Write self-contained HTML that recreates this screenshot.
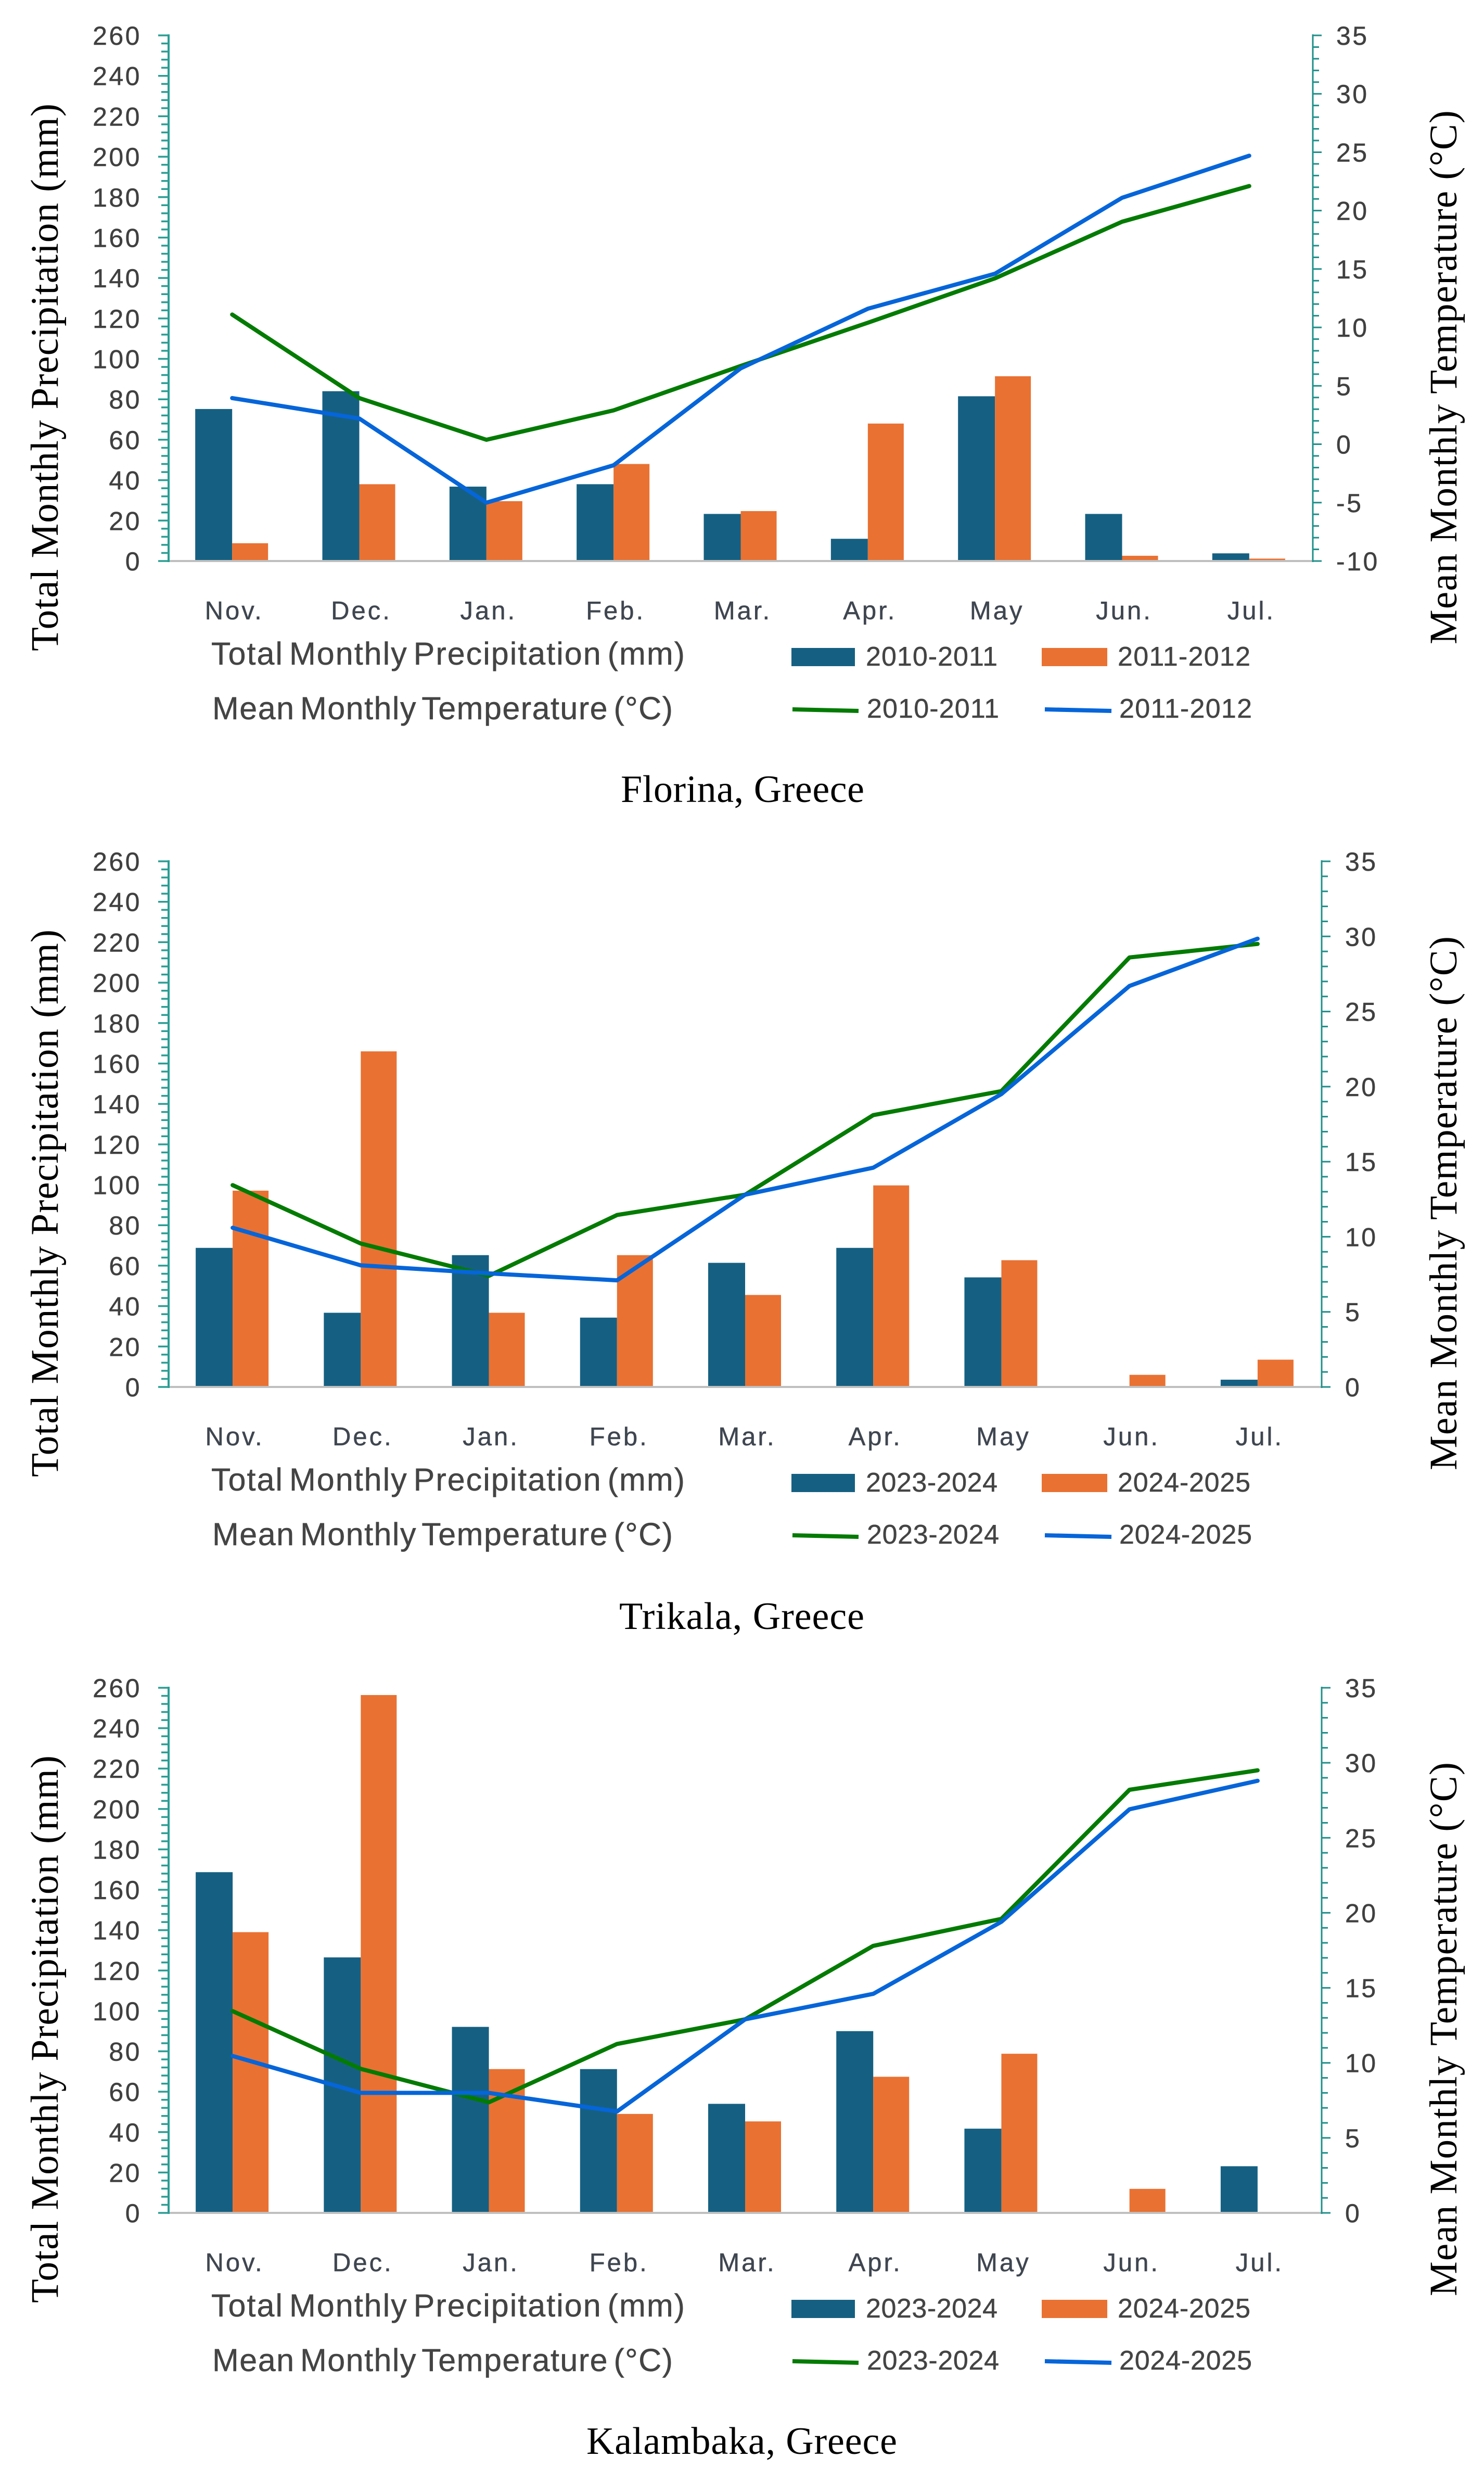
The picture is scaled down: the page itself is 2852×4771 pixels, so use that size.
<!DOCTYPE html>
<html lang="en">
<head>
<meta charset="utf-8">
<title>Monthly precipitation and temperature: Florina, Trikala, Kalambaka</title>
<style>
html,body{margin:0;padding:0;background:#fff;width:2852px;height:4771px;overflow:hidden}
svg{display:block}
.axis-title{font-family:"Liberation Serif",serif;font-size:75px;fill:#000}
.caption{font-family:"Liberation Serif",serif;font-size:74px;fill:#000}
.legend-title{font-family:"Liberation Sans",sans-serif;font-size:61px;fill:#444;word-spacing:-8px;stroke:#444;stroke-width:.5px}
.legend-label{font-family:"Liberation Sans",sans-serif;font-size:52px;fill:#444;stroke:#444;stroke-width:.5px}
.tick-label{font-family:"Liberation Sans",sans-serif;font-size:50px;fill:#404040;letter-spacing:3.5px;stroke:#404040;stroke-width:.5px}
.month-label{font-family:"Liberation Sans",sans-serif;font-size:49px;fill:#3f4650;letter-spacing:4px;text-anchor:middle;stroke:#3f4650;stroke-width:.5px}
</style>
</head>
<body>
<svg id="figure" xmlns="http://www.w3.org/2000/svg" width="2852" height="4771" viewBox="0 0 2852 4771">
<rect x="0" y="0" width="2852" height="4771" fill="#fff"/>

<g id="chart-florina">
  <g id="marks-florina"></g>
  <text class="axis-title" transform="translate(111,1251) rotate(-90)" textLength="1052">Total Monthly Precipitation (mm)</text>
  <text class="axis-title" transform="translate(2799,1238) rotate(-90)" textLength="1026">Mean Monthly Temperature (°C)</text>
  <g>
    <text class="legend-title" x="406" y="1277" textLength="910">Total Monthly Precipitation (mm)</text>
    <text class="legend-title" x="408" y="1382" textLength="885">Mean Monthly Temperature (°C)</text>
    <rect x="1521" y="1245" width="122" height="35" fill="#156082"/>
    <text class="legend-label" x="1664" y="1279" textLength="253">2010-2011</text>
    <rect x="2002" y="1245" width="126" height="35" fill="#E97132"/>
    <text class="legend-label" x="2148" y="1279" textLength="255">2011-2012</text>
    <line x1="1523" y1="1363" x2="1650" y2="1366" stroke="#037B03" stroke-width="8"/>
    <text class="legend-label" x="1666" y="1379" textLength="254">2010-2011</text>
    <line x1="2008" y1="1363" x2="2136" y2="1366" stroke="#0565D9" stroke-width="8"/>
    <text class="legend-label" x="2151" y="1379" textLength="255">2011-2012</text>
  </g>
  <text class="caption" x="1193" y="1541" textLength="468">Florina, Greece</text>
</g>

<g id="chart-trikala">
  <g id="marks-trikala"></g>
  <g transform="translate(0,1587)">
  <text class="axis-title" transform="translate(111,1251) rotate(-90)" textLength="1052">Total Monthly Precipitation (mm)</text>
  <text class="axis-title" transform="translate(2799,1238) rotate(-90)" textLength="1026">Mean Monthly Temperature (°C)</text>
  <g>
    <text class="legend-title" x="406" y="1277" textLength="910">Total Monthly Precipitation (mm)</text>
    <text class="legend-title" x="408" y="1382" textLength="885">Mean Monthly Temperature (°C)</text>
    <rect x="1521" y="1245" width="122" height="35" fill="#156082"/>
    <text class="legend-label" x="1664" y="1279" textLength="253">2023-2024</text>
    <rect x="2002" y="1245" width="126" height="35" fill="#E97132"/>
    <text class="legend-label" x="2148" y="1279" textLength="255">2024-2025</text>
    <line x1="1523" y1="1363" x2="1650" y2="1366" stroke="#037B03" stroke-width="8"/>
    <text class="legend-label" x="1666" y="1379" textLength="254">2023-2024</text>
    <line x1="2008" y1="1363" x2="2136" y2="1366" stroke="#0565D9" stroke-width="8"/>
    <text class="legend-label" x="2151" y="1379" textLength="255">2024-2025</text>
  </g>
  <text class="caption" x="1190" y="1543" textLength="471">Trikala, Greece</text>
  </g>
</g>

<g id="chart-kalambaka">
  <g id="marks-kalambaka"></g>
  <g transform="translate(0,3174)">
  <text class="axis-title" transform="translate(111,1251) rotate(-90)" textLength="1052">Total Monthly Precipitation (mm)</text>
  <text class="axis-title" transform="translate(2799,1238) rotate(-90)" textLength="1026">Mean Monthly Temperature (°C)</text>
  <g>
    <text class="legend-title" x="406" y="1277" textLength="910">Total Monthly Precipitation (mm)</text>
    <text class="legend-title" x="408" y="1382" textLength="885">Mean Monthly Temperature (°C)</text>
    <rect x="1521" y="1245" width="122" height="35" fill="#156082"/>
    <text class="legend-label" x="1664" y="1279" textLength="253">2023-2024</text>
    <rect x="2002" y="1245" width="126" height="35" fill="#E97132"/>
    <text class="legend-label" x="2148" y="1279" textLength="255">2024-2025</text>
    <line x1="1523" y1="1363" x2="1650" y2="1366" stroke="#037B03" stroke-width="8"/>
    <text class="legend-label" x="1666" y="1379" textLength="254">2023-2024</text>
    <line x1="2008" y1="1363" x2="2136" y2="1366" stroke="#0565D9" stroke-width="8"/>
    <text class="legend-label" x="2151" y="1379" textLength="255">2024-2025</text>
  </g>
  <text class="caption" x="1127" y="1541" textLength="597">Kalambaka, Greece</text>
  </g>
</g>
</svg>

<script>
var categories = ["Nov.", "Dec.", "Jan.", "Feb.", "Mar.", "Apr.", "May", "Jun.", "Jul."];
var precipTicks = [0, 20, 40, 60, 80, 100, 120, 140, 160, 180, 200, 220, 240, 260];
var tempTicksFlorina = [-10, -5, 0, 5, 10, 15, 20, 25, 30, 35];
var tempTicksThessaly = [0, 5, 10, 15, 20, 25, 30, 35];

var florinaPrecipFirst = [75.2, 84, 36.8, 38, 23.3, 11, 81.5, 23.3, 3.8];
var florinaPrecipSecond = [8.8, 38, 29.6, 48, 24.7, 68, 91.4, 2.6, 1.2];
var florinaTempFirst = [11.1, 3.95, 0.38, 2.9, 6.7, 10.4, 14.2, 19.05, 22.1];
var florinaTempSecond = [3.95, 2.2, -5, -1.8, 6.5, 11.6, 14.6, 21.1, 24.7];

var trikalaPrecipFirst = [68.8, 36.7, 65.2, 34.3, 61.4, 68.8, 54.2, 0, 3.6];
var trikalaPrecipSecond = [97.1, 166, 36.7, 65.2, 45.5, 99.7, 62.7, 6, 13.5];
var trikalaTempFirst = [13.44, 9.55, 7.4, 11.45, 12.8, 18.1, 19.7, 28.6, 29.5];
var trikalaTempSecond = [10.6, 8.1, 7.56, 7.1, 12.8, 14.6, 19.5, 26.7, 29.85];

var kalambakaPrecipFirst = [168.7, 126.5, 92.1, 71.2, 54, 90, 41.7, 0, 23.1];
var kalambakaPrecipSecond = [139, 256.4, 71.2, 49, 45.3, 67.4, 78.8, 11.9, 0];
var kalambakaTempFirst = [13.45, 9.6, 7.37, 11.26, 12.9, 17.8, 19.6, 28.2, 29.5];
var kalambakaTempSecond = [10.46, 8, 8, 6.76, 12.9, 14.6, 19.4, 26.9, 28.8];

var SVGNS = "http://www.w3.org/2000/svg";
var COLORS = { barA: "#156082", barB: "#E97132", lineA: "#037B03", lineB: "#0565D9", axisL: "#2A9D94", axisR: "#1F8F8A", base: "#BFBFBF" };

function mk(parent, tag, attrs) {
  var el = document.createElementNS(SVGNS, tag);
  for (var k in attrs) { el.setAttribute(k, attrs[k]); }
  parent.appendChild(el);
  return el;
}

function drawChart(groupId, frame, tempTicks, barsA, barsB, tempA, tempB) {
  var g = document.getElementById(groupId);
  var bandW = (frame.right - frame.left) / categories.length;
  var x = function (i) { return frame.left + bandW * (i + 0.5); };
  var yP = function (v) { return frame.bottom - (v - precipTicks[0]) / (precipTicks[precipTicks.length - 1] - precipTicks[0]) * (frame.bottom - frame.top); };
  var tMin = tempTicks[0], tMax = tempTicks[tempTicks.length - 1];
  var yT = function (v) { return frame.bottom - (v - tMin) / (tMax - tMin) * (frame.bottom - frame.top); };
  var el, i, j;

  // bars
  for (i = 0; i < categories.length; i++) {
    if (barsA[i] > 0) {
      el = mk(g, "rect", { x: x(i) - 71, y: yP(barsA[i]), width: 71, height: frame.bottom - yP(barsA[i]), fill: COLORS.barA });
      
      
    }
    if (barsB[i] > 0) {
      el = mk(g, "rect", { x: x(i), y: yP(barsB[i]), width: 69, height: frame.bottom - yP(barsB[i]), fill: COLORS.barB });
      
      
    }
  }

  // category baseline
  el = mk(g, "line", { x1: frame.left, y1: frame.bottom, x2: frame.right, y2: frame.bottom, stroke: COLORS.base, "stroke-width": 4 });
  
  

  // left axis
  el = mk(g, "line", { x1: frame.left, y1: frame.top - 2, x2: frame.left, y2: frame.bottom + 2, stroke: COLORS.axisL, "stroke-width": 4 });
  
  
  for (i = 0; i < precipTicks.length; i++) {
    var py = yP(precipTicks[i]);
    el = mk(g, "line", { x1: frame.left - 20, y1: py, x2: frame.left, y2: py, stroke: COLORS.axisL, "stroke-width": 3.5 });
    
    
    el = mk(g, "text", { "class": "tick-label", x: 272, y: py + 18, "text-anchor": "end" });
    el.textContent = precipTicks[i];
    
    
    if (i < precipTicks.length - 1) {
      for (j = 1; j < 5; j++) {
        var pm = yP(precipTicks[i] + (precipTicks[i + 1] - precipTicks[i]) * j / 5);
        el = mk(g, "line", { x1: frame.left - 14, y1: pm, x2: frame.left, y2: pm, stroke: COLORS.axisL, "stroke-width": 3.5 });
        
        
      }
    }
  }

  // right axis
  el = mk(g, "line", { x1: frame.right, y1: frame.top - 2, x2: frame.right, y2: frame.bottom + 2, stroke: COLORS.axisR, "stroke-width": 3 });
  
  
  for (i = 0; i < tempTicks.length; i++) {
    var ty = yT(tempTicks[i]);
    el = mk(g, "line", { x1: frame.right, y1: ty, x2: frame.right + 17, y2: ty, stroke: COLORS.axisR, "stroke-width": 3 });
    
    
    el = mk(g, "text", { "class": "tick-label", x: frame.right + 45, y: ty + 18 });
    el.textContent = tempTicks[i];
    
    
    if (i < tempTicks.length - 1) {
      for (j = 1; j < 5; j++) {
        var tm = yT(tempTicks[i] + (tempTicks[i + 1] - tempTicks[i]) * j / 5);
        el = mk(g, "line", { x1: frame.right, y1: tm, x2: frame.right + 12, y2: tm, stroke: COLORS.axisR, "stroke-width": 3 });
        
        
      }
    }
  }

  // month labels
  for (i = 0; i < categories.length; i++) {
    el = mk(g, "text", { "class": "month-label", x: x(i) + 4, y: frame.bottom + 112 });
    el.textContent = categories[i];
    
    
  }

  // temperature lines
  var ptsA = tempA.map(function (v, n) { return x(n).toFixed(1) + "," + yT(v).toFixed(1); }).join(" ");
  var ptsB = tempB.map(function (v, n) { return x(n).toFixed(1) + "," + yT(v).toFixed(1); }).join(" ");
  el = mk(g, "polyline", { points: ptsA, fill: "none", stroke: COLORS.lineA, "stroke-width": 8, "stroke-linejoin": "round", "stroke-linecap": "round" });
  
  
  el = mk(g, "polyline", { points: ptsB, fill: "none", stroke: COLORS.lineB, "stroke-width": 8, "stroke-linejoin": "round", "stroke-linecap": "round" });
  
  
}

drawChart("marks-florina", { left: 324, right: 2523, top: 68, bottom: 1078 }, tempTicksFlorina, florinaPrecipFirst, florinaPrecipSecond, florinaTempFirst, florinaTempSecond);
drawChart("marks-trikala", { left: 324, right: 2540, top: 1655, bottom: 2665 }, tempTicksThessaly, trikalaPrecipFirst, trikalaPrecipSecond, trikalaTempFirst, trikalaTempSecond);
drawChart("marks-kalambaka", { left: 324, right: 2540, top: 3243, bottom: 4252 }, tempTicksThessaly, kalambakaPrecipFirst, kalambakaPrecipSecond, kalambakaTempFirst, kalambakaTempSecond);
</script>
</body>
</html>
